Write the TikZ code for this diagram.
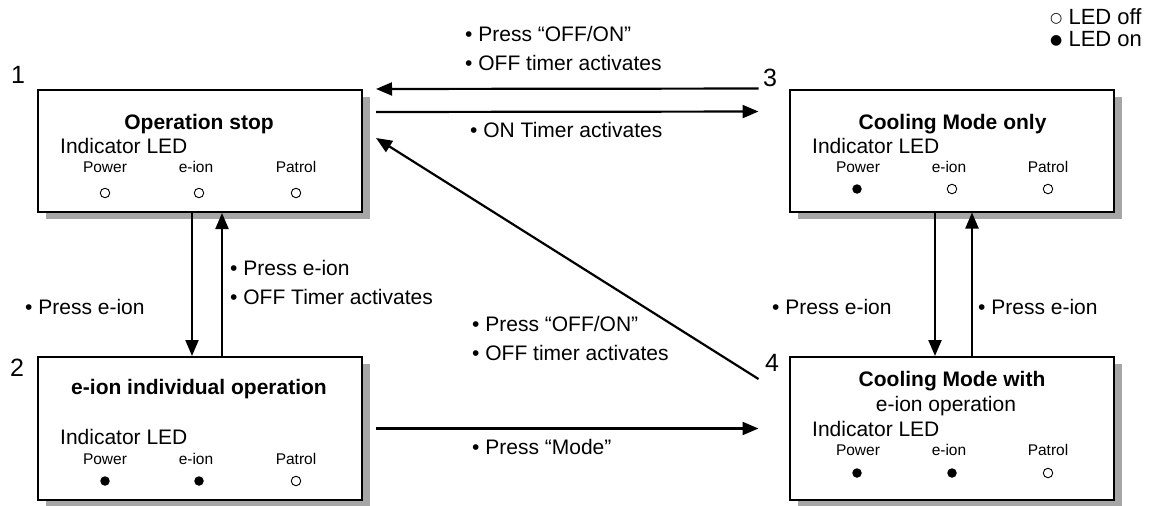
\documentclass[tikz,border=0pt]{standalone}
\usepackage{fontspec}
\setmainfont{Liberation Sans}
\newfontfamily\symfont{DejaVu Sans}
\usetikzlibrary{arrows.meta, shadows, calc}

\newcommand{\lblsize}{\fontsize{21}{29}\selectfont}
\newcommand{\ledsize}{\fontsize{15.5}{18}\selectfont}
\newcommand{\numsize}{\fontsize{25}{30}\selectfont}
\newcommand{\legsize}{\fontsize{22}{22}\selectfont}
\newcommand{\legsym}[1]{{\symfont\fontsize{14}{14}\selectfont\raisebox{1.5pt}{#1}}}

\begin{document}
\begin{tikzpicture}[x=1pt, y=-1pt,
  box/.style={draw, line width=2pt, fill=white, minimum width=324pt,
    drop shadow={shadow xshift=8pt, shadow yshift=-7pt, fill=black!35, opacity=1}},
  txt/.style={inner sep=0pt, font=\lblsize},
  title/.style={inner sep=0pt, font=\lblsize\bfseries, anchor=base},
  ledname/.style={inner sep=0pt, font=\ledsize, anchor=base},
  ledoff/.style={circle, draw, line width=0.9pt, minimum size=9.5pt, inner sep=0pt},
  ledon/.style={circle, fill, minimum size=9.5pt, inner sep=0pt},
  arr/.style={line width=2.2pt, -{Triangle[length=16pt, width=13pt]}},
  num/.style={inner sep=0pt, font=\numsize}]
\useasboundingbox (0,0) rectangle (1157,506);

% State boxes
\node[box, minimum height=122pt] (b1) at (200,151) {};
\node[box, minimum height=143pt] (b2) at (200,428.5) {};
\node[box, minimum height=122pt] (b3) at (951.5,150.5) {};
\node[box, minimum height=143pt] (b4) at (951.5,428.5) {};

% State numbers
\node[num] (n1) at (18,75) {1};
\node[num] (n2) at (17,368) {2};
\node[num] (n3) at (770,78) {3};
\node[num] (n4) at (772,363) {4};

% Legend
\node[txt, anchor=base west, align=left, font=\legsize] (leg) at (1050,46) {\legsym{○} LED off\\\legsym{●} LED on};

% Box 1: operation stop
\node[title] (t1) at (199,129.5) {Operation stop};
\node[txt, anchor=base west] (i1) at (60,153.5) {Indicator LED};
\node[ledname] (p1) at (105,172.5) {Power};
\node[ledname] (e1) at (196,172.5) {e-ion};
\node[ledname] (q1) at (296,172.5) {Patrol};
\node[ledoff] (lp1) at (105,193) {};
\node[ledoff] (le1) at (199,193) {};
\node[ledoff] (lq1) at (296,193) {};

% Box 2: e-ion individual operation
\node[title] (t2) at (199,394.5) {e-ion individual operation};
\node[txt, anchor=base west] (i2) at (60,444.5) {Indicator LED};
\node[ledname] (p2) at (105,464) {Power};
\node[ledname] (e2) at (196,464) {e-ion};
\node[ledname] (q2) at (296,464) {Patrol};
\node[ledon] (lp2) at (105,481) {};
\node[ledon] (le2) at (199,481) {};
\node[ledoff] (lq2) at (296,481) {};

% Box 3: cooling mode only
\node[title] (t3) at (952.5,129.5) {Cooling Mode only};
\node[txt, anchor=base west] (i3) at (812,153.5) {Indicator LED};
\node[ledname] (p3) at (858,172.5) {Power};
\node[ledname] (e3) at (949,172.5) {e-ion};
\node[ledname] (q3) at (1048,172.5) {Patrol};
\node[ledon] (lp3) at (857,189) {};
\node[ledoff] (le3) at (952,189) {};
\node[ledoff] (lq3) at (1048,189) {};

% Box 4: cooling mode with e-ion
\node[title] (t4) at (952,386.5) {Cooling Mode with};
\node[txt, anchor=base] (s4) at (946,411.5) {e-ion operation};
\node[txt, anchor=base west] (i4) at (812,436.5) {Indicator LED};
\node[ledname] (p4) at (858,455.5) {Power};
\node[ledname] (e4) at (949,455.5) {e-ion};
\node[ledname] (q4) at (1048,455.5) {Patrol};
\node[ledon] (lp4) at (857,473) {};
\node[ledon] (le4) at (952,473) {};
\node[ledoff] (lq4) at (1048,473) {};

% Transitions
\draw[arr, shorten <=30pt, shorten >=13pt] (b3.north west) -- (b1.north east);
\draw[arr, shorten <=13pt, shorten >=30pt] ([yshift=-23pt]b1.north east) -- ([yshift=-23pt]b3.north west);
\coordinate (d4) at ([xshift=-30pt, yshift=-23pt]b4.north west);
\coordinate (d1) at ([xshift=13pt, yshift=-49pt]b1.north east);
\draw[arr] (d4) -- (d1);
\draw[arr, shorten <=13pt, shorten >=30pt] (b2.east) -- (b4.west);
\draw[arr] ([xshift=-8pt]b1.south) -- ([xshift=-8pt]b2.north);
\draw[arr] ([xshift=22pt]b2.north) -- ([xshift=22pt]b1.south);
\draw[arr] ([xshift=-16.5pt]b3.south) -- ([xshift=-16.5pt]b4.north);
\draw[arr] ([xshift=20.5pt]b4.north) -- ([xshift=20.5pt]b3.south);

% Transition labels (base = last line)
\node[txt, anchor=base west, align=left] (a31) at (465,70.5) {• Press “OFF/ON”\\• OFF timer activates};
\node[txt, anchor=base west] (a13) at (470,137.5) {• ON Timer activates};
\node[txt, anchor=base west, align=left] (a21) at (230,304.5) {• Press e-ion\\• OFF Timer activates};
\node[txt, anchor=base west] (a12) at (25,314.5) {• Press e-ion};
\node[txt, anchor=base west, align=left] (a41) at (472,360.5) {• Press “OFF/ON”\\• OFF timer activates};
\node[txt, anchor=base west] (a24) at (472,454.5) {• Press “Mode”};
\node[txt, anchor=base west] (a34) at (772,314.5) {• Press e-ion};
\node[txt, anchor=base west] (a43) at (978,314.5) {• Press e-ion};
\end{tikzpicture}
\end{document}
